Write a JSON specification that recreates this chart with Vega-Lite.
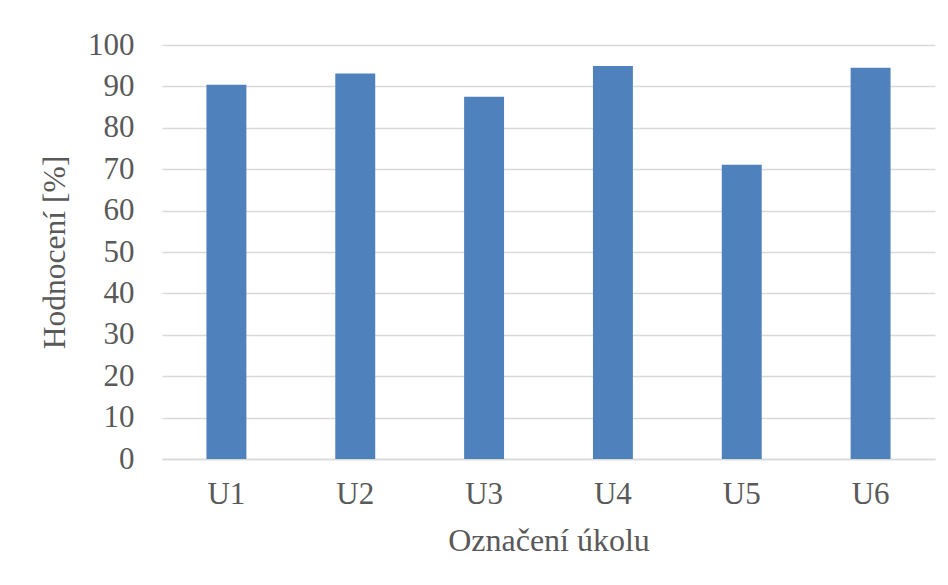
{
  "$schema": "https://vega.github.io/schema/vega-lite/v6.json",
  "autosize": "none",
  "width": 773,
  "height": 414,
  "padding": {"left": 162, "top": 45, "right": 13, "bottom": 126},
  "background": "white",
  "data": {"values": [
    {"ukol": "U1", "hodnoceni": 90.4},
    {"ukol": "U2", "hodnoceni": 93.1},
    {"ukol": "U3", "hodnoceni": 87.5},
    {"ukol": "U4", "hodnoceni": 94.9},
    {"ukol": "U5", "hodnoceni": 71.1},
    {"ukol": "U6", "hodnoceni": 94.5}
  ]},
  "mark": {"type": "bar", "color": "#4f81bd"},
  "encoding": {
    "x": {
      "field": "ukol", "type": "nominal",
      "scale": {"paddingInner": 0.69, "paddingOuter": 0.345},
      "axis": {"title": "Označení úkolu", "labelAngle": 0, "ticks": false, "domainColor": "#d9d9d9", "domainWidth": 1.5, "labelPadding": 20, "titlePadding": 16, "titleFontSize": 32}
    },
    "y": {
      "field": "hodnoceni", "type": "quantitative",
      "scale": {"domain": [0, 100]},
      "axis": {"title": "Hodnocení [%]", "values": [0,10,20,30,40,50,60,70,80,90,100], "labelOverlap": false, "ticks": false, "domain": false, "gridColor": "#d9d9d9", "gridWidth": 1.5, "labelPadding": 28, "titlePadding": 16, "titleFontSize": 31.5}
    }
  },
  "config": {
    "view": {"stroke": null},
    "axis": {
      "labelFont": "Liberation Serif", "titleFont": "Liberation Serif",
      "labelFontSize": 31,
      "labelColor": "#595959", "titleColor": "#595959",
      "titleFontWeight": "normal"
    }
  }
}
